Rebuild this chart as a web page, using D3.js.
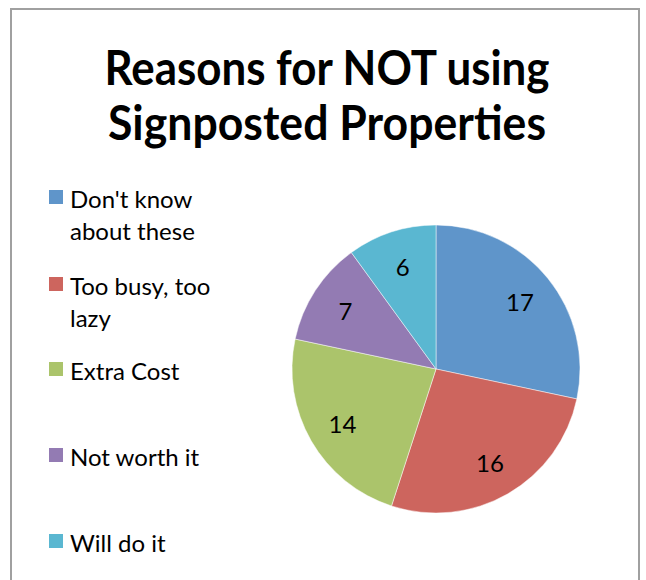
<!DOCTYPE html>
<html>
<head>
<meta charset="utf-8">
<script src="https://cdn.jsdelivr.net/npm/d3@7/dist/d3.min.js"></script>
<style>
  html, body { margin: 0; padding: 0; background: #fff; }
  svg { display: block; }
</style>
</head>
<body>
<svg id="chart" width="646" height="580"></svg>
<script>
// Survey answers: why owners do not use signposted properties
const categories = ["Don't know about these", "Too busy, too lazy", "Extra Cost", "Not worth it", "Will do it"];
const legendLines = [["Don't know", "about these"], ["Too busy, too", "lazy"], ["Extra Cost"], ["Not worth it"], ["Will do it"]];
const values = [17, 16, 14, 7, 6];
const sliceColors = ["#5F95CA", "#CD655E", "#ABC46B", "#937BB3", "#5AB7D1"];
const titleLines = ["Reasons for NOT using", "Signposted Properties"];

const svg = d3.select("#chart");
const font = "Lato, 'Open Sans', sans-serif";

// chart frame
svg.append("rect")
  .attr("x", 11).attr("y", 9)
  .attr("width", 628).attr("height", 600)
  .attr("fill", "#fff")
  .attr("stroke", "#a0a0a0")
  .attr("stroke-width", 2);

// title, set narrow like the original condensed face
svg.append("g").selectAll("text")
  .data(titleLines)
  .join("text")
  .attr("x", 327)
  .attr("y", (d, i) => 85 + i * 55)
  .attr("text-anchor", "middle")
  .attr("font-family", font)
  .attr("font-weight", "bold")
  .attr("font-size", 47)
  .attr("textLength", (d, i) => i === 0 ? 445 : 438)
  .attr("lengthAdjust", "spacingAndGlyphs")
  .attr("fill", "#000")
  .text(d => d);

// pie
const cx = 436, cy = 369, radius = 144;
const pie = d3.pie().sort(null).value(d => d);
const arcs = pie(values);
const arc = d3.arc().innerRadius(0).outerRadius(radius);
const labelArc = d3.arc().innerRadius(108).outerRadius(108);
const color = d3.scaleOrdinal().domain(d3.range(values.length)).range(sliceColors);

const g = svg.append("g").attr("transform", `translate(${cx},${cy})`);
g.selectAll("path")
  .data(arcs)
  .join("path")
  .attr("d", arc)
  .attr("fill", (d, i) => color(i))
  .attr("stroke", "#ffffff")
  .attr("stroke-opacity", 0.6)
  .attr("stroke-width", 0.8);

g.selectAll("text")
  .data(arcs)
  .join("text")
  .attr("transform", d => `translate(${labelArc.centroid(d)})`)
  .attr("text-anchor", "middle")
  .attr("dominant-baseline", "central")
  .attr("font-family", font)
  .attr("font-size", 24)
  .attr("fill", "#000")
  .text(d => d.data);

// legend
const legendTops = [190, 277, 362, 448, 534];
const legend = svg.append("g");
const items = legend.selectAll("g")
  .data(categories)
  .join("g")
  .attr("transform", (d, i) => `translate(49,${legendTops[i]})`);
items.append("rect")
  .attr("width", 14).attr("height", 14)
  .attr("fill", (d, i) => color(i));
items.append("text")
  .attr("font-family", font)
  .attr("font-size", 24)
  .attr("fill", "#000")
  .selectAll("tspan")
  .data((d, i) => legendLines[i])
  .join("tspan")
  .attr("x", 21)
  .attr("y", (d, j) => 18 + j * 32)
  .text(d => d);
</script>
</body>
</html>
